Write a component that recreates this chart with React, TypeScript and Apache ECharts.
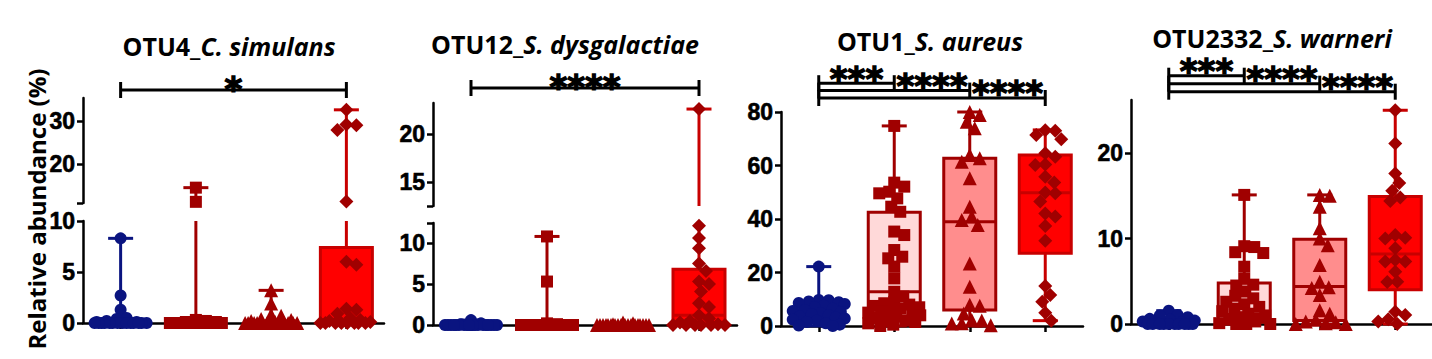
import React, { useEffect, useRef } from "react";
import * as echarts from "echarts";

// ---------- texts ----------
const panelTitles: [string, string][] = [
  ["OTU4_", "C. simulans"],
  ["OTU12_", "S. dysgalactiae"],
  ["OTU1_", "S. aureus"],
  ["OTU2332_", "S. warneri"],
];
const yAxisTitle = "Relative abundance (%)";

// ---------- OTU4 C. simulans (broken axis) ----------
const otu4G1 = [8.3, 2.7, 1.3, 0.5, 0.4, 0.2, 0.1, 0.1, 0, 0, 0, 0, 0, 0, 0, 0, 0, 0, 0, 0, 0, 0];
const otu4G2 = [14.5, 11.2, 0.3, 0.2, 0.1, 0.1, 0, 0, 0, 0, 0, 0, 0, 0, 0, 0, 0, 0, 0, 0, 0, 0];
const otu4G3 = [3.2, 1.9, 0.8, 0.7, 0.4, 0.3, 0.2, 0.1, 0, 0, 0, 0, 0, 0, 0, 0, 0, 0, 0, 0, 0, 0];
const otu4G4 = [32.6, 29.2, 29.0, 27.9, 11.3, 6.0, 5.7, 1.4, 1.3, 0.9, 0.5, 0.3, 0.2, 0.1, 0, 0, 0, 0, 0, 0, 0, 0];
// [whisker low, Q1, median, Q3, whisker high]
const otu4Boxes = [
  [0, 0, 0, 0, 8.3],
  [0, 0, 0, 0.1, 14.5],
  [0, 0, 0, 0.2, 3.2],
  [0, 0, 0.3, 7.4, 32.6],
];
const otu4Ranges = [[10.93, 35.35], [0, 10]];
const otu4Ticks = [[10.93, 20, 30], [0, 5, 10]];
const otu4TickLabels = [[20, 30], [0, 5, 10]];
const otu4Brackets: [number, number, string, number, number][] = [[1, 4, "*", 0, 1]];

// ---------- OTU12 S. dysgalactiae (broken axis) ----------
const otu12G1 = [0.6, 0.2, 0.1, 0, 0, 0, 0, 0, 0, 0, 0, 0, 0, 0, 0, 0, 0, 0, 0, 0, 0, 0];
const otu12G2 = [10.8, 5.3, 0.2, 0.1, 0, 0, 0, 0, 0, 0, 0, 0, 0, 0, 0, 0, 0, 0, 0, 0, 0, 0];
const otu12G3 = [0.3, 0.2, 0.1, 0, 0, 0, 0, 0, 0, 0, 0, 0, 0, 0, 0, 0, 0, 0, 0, 0, 0, 0];
const otu12G4 = [22.6, 12.1, 10.6, 9.35, 7.5, 6.6, 5.3, 5.0, 4.1, 2.65, 2.2, 1.2, 0.8, 0.5, 0.3, 0.1, 0, 0, 0, 0, 0, 0];
const otu12Boxes = [
  [0, 0, 0, 0, 0.6],
  [0, 0, 0, 0, 10.8],
  [0, 0, 0, 0, 0],
  [0, 0.2, 1.2, 6.8, 22.6],
];
const otu12Ranges = [[12.5, 23.23], [0, 12.44]];
const otu12Ticks = [[12.5, 15, 20], [0, 5, 10, 12.44]];
const otu12TickLabels = [[15, 20], [0, 5, 10]];
const otu12Brackets: [number, number, string, number, number][] = [[1, 4, "****", 0, 1]];

// ---------- OTU1 S. aureus ----------
const otu1G1 = [22.2, 9.7, 9.6, 9.2, 8.9, 8.6, 8.2, 7.6, 7.0, 6.5, 6.0, 5.6, 5.2, 4.8, 4.4, 4.0, 3.6, 3.2, 2.8, 2.4, 2.0, 1.5, 1.0, 0.5, 0.2, 0];
const otu1G2 = [74.8, 53.6, 52.1, 50.2, 49.6, 47.7, 44.6, 42.7, 35.3, 34, 28.4, 25.9, 25.3, 22.2, 17.8, 12.8, 11, 9, 8.5, 8, 7.5, 7, 6.5, 6, 5.5, 5, 4.5, 4, 3.5, 3, 2.5, 2, 1.5, 1, 0.5, 0];
const otu1G3 = [80, 78.9, 76.4, 73.9, 63.9, 62.7, 61.4, 55.2, 44.6, 40.9, 39.6, 37.8, 23.4, 14.7, 7.9, 7.6, 4.7, 2.2, 2.1, 1.0, 0.9, 0.3];
const otu1G4 = [73.0, 73.2, 71.4, 69.8, 64.6, 63.3, 60.2, 60.4, 55.8, 53.6, 49.6, 49.9, 46.5, 42.1, 40.9, 37.4, 31.9, 15, 11.6, 9.1, 5, 2];
const otu1Boxes = [
  [0, 2, 4.5, 6, 22.2],
  [0, 3, 12.8, 42.5, 74.8],
  [0, 6, 39, 62.7, 80],
  [2, 27.2, 49.8, 63.9, 73.3],
];
const otu1Ranges = [[0, 80]];
const otu1Ticks = [[0, 20, 40, 60, 80]];
const otu1TickLabels = [[0, 20, 40, 60, 80]];
const otu1Brackets: [number, number, string, number, number][] = [
  [1, 2, "***", 2, 1],
  [1, 3, "****", 1, 2],
  [1, 4, "****", 0, 3],
];

// ---------- OTU2332 S. warneri ----------
const otu2332G1 = [1.56, 1.05, 1.0, 0.8, 0.6, 0.5, 0.4, 0.3, 0.2, 0.1, 0, 0, 0, 0, 0, 0, 0, 0, 0, 0];
const otu2332G2 = [15.1, 9.1, 9.0, 8.4, 8.3, 6.7, 5.3, 4.6, 4.5, 3.8, 3.3, 3.0, 2.6, 2.3, 2.0, 1.8, 1.5, 1.2, 1.0, 0.8, 0.5, 0.3, 0.1, 0, 0, 0];
const otu2332G3 = [15.1, 15.0, 13.7, 11.2, 10.0, 9.2, 6.9, 4.95, 4.3, 4.2, 3.4, 1.6, 1.2, 0.5, 0.3, 0.2, 0.1, 0, 0];
const otu2332G4 = [25, 21.1, 17.6, 16.5, 15.6, 14.8, 14.4, 10.4, 10.1, 10.0, 8.85, 7.5, 7.3, 7.3, 6.1, 4.95, 4.9, 1.44, 1.05, 0.55, 0.3, 0];
const otu2332Boxes = [
  [0, 0, 0.1, 0.5, 1.56],
  [0, 0.2, 1.1, 4.8, 15.1],
  [0, 0.4, 4.4, 9.9, 15.1],
  [0, 4, 8.2, 14.9, 25],
];
const otu2332Ranges = [[0, 26.2]];
const otu2332Ticks = [[0, 10, 20]];
const otu2332TickLabels = [[0, 10, 20]];
const otu2332Brackets: [number, number, string, number, number][] = [
  [1, 2, "***", 2, 1],
  [1, 3, "****", 1, 2],
  [1, 4, "****", 0, 3],
];

// ---------- assemble ----------
const panels = [
  { points: [otu4G1, otu4G2, otu4G3, otu4G4], boxes: otu4Boxes, ranges: otu4Ranges, ticks: otu4Ticks, labels: otu4TickLabels, brackets: otu4Brackets },
  { points: [otu12G1, otu12G2, otu12G3, otu12G4], boxes: otu12Boxes, ranges: otu12Ranges, ticks: otu12Ticks, labels: otu12TickLabels, brackets: otu12Brackets },
  { points: [otu1G1, otu1G2, otu1G3, otu1G4], boxes: otu1Boxes, ranges: otu1Ranges, ticks: otu1Ticks, labels: otu1TickLabels, brackets: otu1Brackets },
  { points: [otu2332G1, otu2332G2, otu2332G3, otu2332G4], boxes: otu2332Boxes, ranges: otu2332Ranges, ticks: otu2332Ticks, labels: otu2332TickLabels, brackets: otu2332Brackets },
];

// layout (pixels)
const layouts = [
  { left: 83, width: 301, segs: [{ top: 98, height: 105 }, { top: 221, height: 102 }], titleX: 229, titleY: 46, bBase: 8, bStep: 7.5, starOff: 9 },
  { left: 433, width: 304, segs: [{ top: 103, height: 103 }, { top: 223, height: 102 }], titleX: 565, titleY: 44, bBase: 15, bStep: 7.5, starOff: 9 },
  { left: 781, width: 302, segs: [{ top: 112, height: 214 }], titleX: 930, titleY: 41, bBase: 14, bStep: 7.4, starOff: 12.5 },
  { left: 1131, width: 302, segs: [{ top: 100, height: 224 }], titleX: 1272, titleY: 37.5, bBase: 8.3, bStep: 8, starOff: 12.5 },
];

const NAVY = "#0a1480";
const DARK = "#a00000";
const groupStyles = [
  { color: NAVY, fill: NAVY, stroke: NAVY, symbol: "circle", size: 12 },
  { color: DARK, fill: "#ffd9d9", stroke: DARK, symbol: "rect", size: 12 },
  { color: DARK, fill: "#ff8d8d", stroke: DARK, symbol: "triangle", size: 14 },
  { color: DARK, fill: "#ff0000", stroke: "#c80000", symbol: "diamond", size: 14 },
];

const BOX_HALF = 26;
const CAP_HALF = 12.5;
const MARK_D = 10;

function swarm(values: number[], toPx: (v: number) => number, d: number, maxHalf: number): number[] {
  const order = values.map((_, i) => i).sort((a, b) => values[b] - values[a]);
  const placed: { x: number; y: number }[] = [];
  const offs = new Array(values.length).fill(0);
  const cands: number[] = [0];
  for (let k = 1; k <= maxHalf; k++) cands.push(k, -k);
  for (const i of order) {
    const y = toPx(values[i]);
    let best = 0;
    let bestScore = -Infinity;
    for (const c of cands) {
      let minD = Infinity;
      for (const p of placed) {
        const dd = Math.hypot(p.x - c, p.y - y);
        if (dd < minD) minD = dd;
      }
      if (minD >= d) { best = c; break; }
      if (minD > bestScore + 1e-9) { bestScore = minD; best = c; }
    }
    offs[i] = best;
    placed.push({ x: best, y });
  }
  return offs;
}

function buildOption() {
  const grids: any[] = [];
  const xAxes: any[] = [];
  const yAxes: any[] = [];
  const series: any[] = [];
  const graphics: any[] = [];

  panels.forEach((panel, pi) => {
    const lay = layouts[pi];
    const nSeg = lay.segs.length;
    const pxPerX = lay.width / 4;
    const gridIdx: number[] = [];

    lay.segs.forEach((seg, si) => {
      const gi = grids.length;
      gridIdx.push(gi);
      const [mn, mx] = panel.ranges[si];
      const isLast = si === nSeg - 1;
      grids.push({ left: lay.left, top: seg.top, width: lay.width, height: seg.height, outerBoundsMode: "none" });
      xAxes.push({
        gridIndex: gi, type: "value", min: 0.5, max: 4.5, show: isLast,
        axisLine: { show: true, onZero: false, lineStyle: { color: "#000", width: 2.5 } },
        axisTick: { show: true, customValues: [1, 2, 3, 4], length: 6, lineStyle: { color: "#000", width: 2.5 } },
        axisLabel: { show: false }, splitLine: { show: false },
      });
      yAxes.push({
        gridIndex: gi, type: "value", min: mn, max: mx,
        axisLine: { show: true, onZero: false, lineStyle: { color: "#000", width: 2.5 } },
        axisTick: { show: true, customValues: panel.ticks[si], length: 6, lineStyle: { color: "#000", width: 2.5 } },
        axisLabel: {
          customValues: panel.labels[si], margin: 8, color: "#000", fontSize: 23, fontWeight: "bold",
          fontFamily: "'Liberation Sans Narrow', 'Liberation Sans', Arial, sans-serif",
          textBorderColor: "#000", textBorderWidth: 0.6,
        },
        splitLine: { show: false },
      });
      // boxes
      series.push({
        type: "custom", xAxisIndex: gi, yAxisIndex: gi, clip: false, silent: true, z: 2,
        encode: { x: 0, y: [1, 2, 3, 4, 5] },
        data: panel.boxes.map((b, g) => [g + 1, ...b]),
        renderItem: (params: any, api: any) => {
          const g = api.value(0);
          const lo = api.value(1), q1 = api.value(2), med = api.value(3), q3 = api.value(4), hi = api.value(5);
          const st = groupStyles[g - 1];
          const cx = api.coord([g, mn])[0];
          const py = (v: number) => api.coord([g, v])[1];
          const cl = (v: number) => Math.max(mn, Math.min(mx, v));
          const ch: any[] = [];
          const lw = 3;
          if (hi >= mn && lo <= mx && hi > lo) {
            ch.push({ type: "line", shape: { x1: cx, y1: py(cl(lo)), x2: cx, y2: py(cl(hi)) }, style: { stroke: st.stroke, lineWidth: lw } });
          }
          if (q3 > q1 && q3 >= mn && q1 <= mx) {
            const yt = py(cl(q3)), yb = py(cl(q1));
            ch.push({ type: "rect", shape: { x: cx - BOX_HALF, y: yt, width: BOX_HALF * 2, height: yb - yt }, style: { fill: st.fill, stroke: st.stroke, lineWidth: lw } });
            if (med >= mn && med <= mx) {
              ch.push({ type: "line", shape: { x1: cx - BOX_HALF, y1: py(med), x2: cx + BOX_HALF, y2: py(med) }, style: { stroke: st.stroke, lineWidth: lw } });
            }
          }
          if (hi > lo) {
            [lo, hi].forEach((v) => {
              if (v >= mn && v <= mx) {
                ch.push({ type: "line", shape: { x1: cx - CAP_HALF, y1: py(v), x2: cx + CAP_HALF, y2: py(v) }, style: { stroke: st.stroke, lineWidth: lw } });
              }
            });
          }
          return { type: "group", children: ch };
        },
      });
    });

    // pixel mapping across segments for the swarm
    const lowerMax = panel.ranges[nSeg - 1][1];
    const toPx = (v: number) => {
      const si = nSeg > 1 && v > lowerMax ? 0 : nSeg - 1;
      const [mn, mx] = panel.ranges[si];
      const seg = lay.segs[si];
      return seg.top + ((mx - v) / (mx - mn)) * seg.height;
    };

    panel.points.forEach((vals, g) => {
      const offs = swarm(vals, toPx, MARK_D, BOX_HALF);
      const st = groupStyles[g];
      lay.segs.forEach((_, si) => {
        const data: number[][] = [];
        vals.forEach((v, i) => {
          const segOf = nSeg > 1 && v > lowerMax ? 0 : nSeg - 1;
          if (segOf === si) data.push([g + 1 + offs[i] / pxPerX, v]);
        });
        if (!data.length) return;
        series.push({
          type: "scatter", xAxisIndex: gridIdx[si], yAxisIndex: gridIdx[si], clip: false, silent: true, z: 3,
          symbol: st.symbol, symbolSize: st.size, itemStyle: { color: st.color, opacity: 1 }, data,
        });
      });
    });

    // significance brackets on the top segment
    const topGi = gridIdx[0];
    const [tmn, tmx] = panel.ranges[0];
    series.push({
      type: "custom", xAxisIndex: topGi, yAxisIndex: topGi, clip: false, silent: true, z: 4,
      encode: { x: [0, 1], y: 2 },
      data: panel.brackets.map((b) => [b[0], b[1], tmn]),
      renderItem: (params: any, api: any) => {
        const b = panel.brackets[params.dataIndex];
        const [from, to, label, level, labelFrom] = b;
        const p1 = api.coord([from, tmx]);
        const x1 = p1[0];
        const x2 = api.coord([to, tmx])[0];
        const xl = api.coord([labelFrom, tmx])[0];
        const yh = p1[1] - lay.bBase - level * lay.bStep;
        const fs = 34;
        const st = { stroke: "#000", lineWidth: 3 };
        return {
          type: "group",
          children: [
            { type: "line", shape: { x1, y1: yh, x2, y2: yh }, style: st },
            { type: "line", shape: { x1, y1: yh - 8, x2: x1, y2: yh + 8 }, style: st },
            { type: "line", shape: { x1: x2, y1: yh - 8, x2, y2: yh + 8 }, style: st },
            {
              type: "text", x: (xl + x2) / 2, y: yh - lay.starOff + 0.234 * fs,
              style: {
                text: label, fill: "#000", font: `bold ${fs}px 'DejaVu Sans'`, align: "center", verticalAlign: "middle",
                lineHeight: 16, stroke: "#000", lineWidth: 1.4,
              },
            },
          ],
        };
      },
    });

    // title
    graphics.push({
      type: "text", x: lay.titleX, y: lay.titleY,
      style: {
        text: `{a|${panelTitles[pi][0]}}{b|${panelTitles[pi][1]}}`,
        align: "center", verticalAlign: "middle", fill: "#000",
        rich: {
          a: { fontSize: 25, lineHeight: 22, fontWeight: "bold", fontFamily: "'Open Sans'", fill: "#000" },
          b: { fontSize: 25, lineHeight: 22, fontWeight: "bold", fontStyle: "italic", fontFamily: "'Open Sans'", fill: "#000" },
        },
      },
    });
  });

  graphics.push({
    type: "text", x: 36, y: 209, rotation: Math.PI / 2,
    style: { text: yAxisTitle, font: "bold 24px 'Open Sans'", fill: "#000", align: "center", verticalAlign: "middle" },
  });

  return {
    animation: false,
    backgroundColor: "#fff",
    grid: grids,
    xAxis: xAxes,
    yAxis: yAxes,
    series,
    graphic: graphics,
  };
}

export default function App() {
  const ref = useRef<HTMLDivElement>(null);
  useEffect(() => {
    if (!ref.current) return;
    const chart = echarts.init(ref.current, undefined, { renderer: "svg" });
    chart.setOption(buildOption() as any);
    return () => chart.dispose();
  }, []);
  return <div ref={ref} style={{ position: "fixed", left: 0, top: 0, width: 1432, height: 359, background: "#fff" }} />;
}
